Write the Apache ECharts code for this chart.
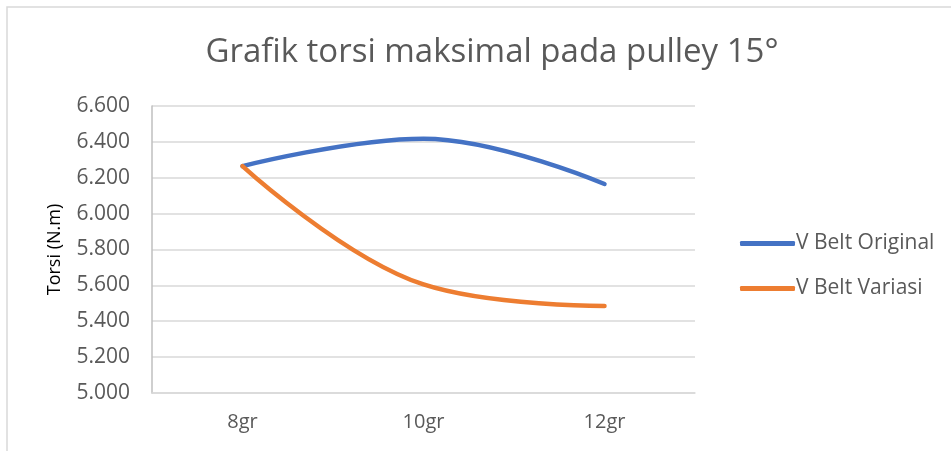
<!DOCTYPE html>
<html>
<head>
<meta charset="utf-8">
<script src="https://cdn.jsdelivr.net/npm/echarts@6/dist/echarts.min.js"></script>
<style>
  html, body { margin: 0; padding: 0; background: #fff; }
  #chart { width: 951px; height: 451px; }
</style>
</head>
<body>
<div id="chart"></div>
<script>
// data
const categories = ['8gr', '10gr', '12gr'];
const vBeltOriginal = [6.265, 6.418, 6.165];
const vBeltVariasi = [6.265, 5.605, 5.485];
const yMin = 5.0;
const yMax = 6.6;
const yStep = 0.2;

const chart = echarts.init(document.getElementById('chart'));
const FONT = 'Open Sans';
const GREY = '#595959';

const option = {
    backgroundColor: '#fff',
    animation: false,
    title: {
        text: 'Grafik torsi maksimal pada pulley 15°',
        left: 487,
        top: 31,
        textAlign: 'center',
        textStyle: { fontFamily: FONT, fontSize: 33, fontWeight: 'normal', color: GREY }
    },
    legend: {
        orient: 'vertical',
        left: 735,
        top: 228,
        itemGap: 24,
        itemWidth: 55,
        itemHeight: 5,
        icon: 'roundRect',
        textStyle: { fontFamily: FONT, fontSize: 21, color: GREY, padding: [0, 0, 0, -4] },
        data: ['V Belt Original', 'V Belt Variasi']
    },
    grid: { left: 152, right: 256, top: 106, bottom: 58 },
    xAxis: {
        type: 'category',
        data: categories,
        boundaryGap: true,
        axisLine: { lineStyle: { color: '#d9d9d9', width: 1.5 } },
        axisTick: { show: false },
        axisLabel: { fontFamily: FONT, fontSize: 20, color: GREY, margin: 19 }
    },
    yAxis: {
        type: 'value',
        min: yMin,
        max: yMax,
        interval: yStep,
        name: 'Torsi (N.m)',
        nameLocation: 'middle',
        nameGap: 88,
        nameRotate: 90,
        nameTextStyle: { fontFamily: FONT, fontSize: 18, color: '#000' },
        axisLine: { show: true, lineStyle: { color: '#bfbfbf', width: 1.5 } },
        axisTick: { show: false },
        splitLine: { lineStyle: { color: '#d9d9d9', width: 1.5 } },
        axisLabel: {
            fontFamily: FONT, fontSize: 21, color: GREY, margin: 22,
            formatter: v => v.toFixed(3)
        }
    },
    series: [
        {
            name: 'V Belt Original',
            type: 'line',
            data: vBeltOriginal,
            smooth: 0.4,
            symbol: 'none',
            lineStyle: { color: '#4472C4', width: 4.5, cap: 'round' },
            itemStyle: { color: '#4472C4' }
        },
        {
            name: 'V Belt Variasi',
            type: 'line',
            data: vBeltVariasi,
            smooth: 0.4,
            symbol: 'none',
            lineStyle: { color: '#ED7D31', width: 4.5, cap: 'round' },
            itemStyle: { color: '#ED7D31' }
        }
    ],
    graphic: [
        {
            type: 'polyline',
            shape: { points: [[7, 451], [7, 7], [951, 7]] },
            style: { stroke: '#d9d9d9', lineWidth: 1.5, fill: null }
        }
    ]
};

chart.setOption(option);
</script>
</body>
</html>
